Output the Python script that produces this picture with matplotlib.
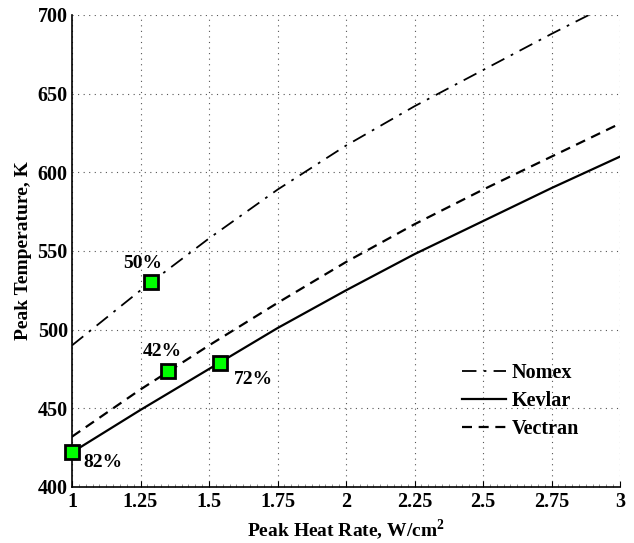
import matplotlib.pyplot as plt
import numpy as np
from matplotlib.ticker import MultipleLocator

plt.rcParams['font.family'] = ['Liberation Serif', 'DejaVu Serif']
plt.rcParams['font.weight'] = 'bold'
plt.rcParams['mathtext.fontset'] = 'custom'
plt.rcParams['mathtext.bf'] = 'Liberation Serif:bold'
plt.rcParams['mathtext.rm'] = 'Liberation Serif:bold'

# Данные
heat_rate = [1.0, 1.25, 1.5, 1.75, 2.0, 2.25, 2.5, 2.75, 3.0]
nomex = [490, 525, 558, 589, 617, 642, 665, 688, 710]
kevlar = [422, 449, 475, 501, 525, 548, 569, 590, 610]
vectran = [432, 462, 490, 517, 543, 567, 589, 610, 631]
tick_labels = ['1', '1.25', '1.5', '1.75', '2', '2.25', '2.5', '2.75', '3']

# Точки с процентами
pt_x = [1.29, 1.35, 1.54, 1.0]
pt_y = [530, 474, 479, 422]
pt_labels = ['50%', '42%', '72%', '82%']
label_offsets = [(-6, 14), (-4, 14), (24, -12), (22, -7)]

fig = plt.figure(figsize=(6.34, 5.43), dpi=100)
ax = fig.add_axes([72 / 634, 56 / 543, 548 / 634, 472 / 543])

ax.plot(heat_rate, nomex, color='black', linestyle='-.', linewidth=1.3,
        dashes=(8, 4, 1.5, 4), label='Nomex')
ax.plot(heat_rate, kevlar, color='black', linestyle='-', linewidth=1.6,
        label='Kevlar')
ax.plot(heat_rate, vectran, color='black', linestyle='--', linewidth=1.6,
        dashes=(4.5, 3), label='Vectran')

ax.plot(pt_x, pt_y, linestyle='none', marker='s', markersize=10,
        markerfacecolor='#00ff00', markeredgecolor='black',
        markeredgewidth=2, clip_on=False, zorder=5)
for x, y, t, (dx, dy) in zip(pt_x, pt_y, pt_labels, label_offsets):
    ax.annotate(t, (x, y), xytext=(dx, dy), textcoords='offset points',
                ha='center', va='center', fontsize=14, fontweight='bold')

ax.set_xlim(1, 3)
ax.set_ylim(400, 700)
ax.set_xticks(np.arange(1, 3.01, 0.25))
ax.set_xticklabels(tick_labels)
ax.xaxis.set_minor_locator(MultipleLocator(0.025))
ax.yaxis.set_major_locator(MultipleLocator(50))

ax.tick_params(axis='both', which='major', direction='in', length=4,
               labelsize=14.5, width=0.8)
ax.tick_params(axis='x', which='minor', direction='in', length=2,
               width=0.6, color='gray')
ax.tick_params(axis='y', which='major', length=0, pad=3)
for lab in ax.get_xticklabels() + ax.get_yticklabels():
    lab.set_fontweight('bold')

ax.spines['top'].set_visible(False)
ax.spines['right'].set_visible(False)
ax.spines['left'].set_linewidth(1.2)
ax.spines['bottom'].set_linewidth(1.2)

ax.grid(True, which='major', linestyle=(0, (1, 4)), color='#555555',
        linewidth=0.8)

ax.set_xlabel('Peak Heat Rate, W/cm$^{\\mathbf{2}}$', fontsize=14,
              fontweight='bold', labelpad=4)
ax.set_ylabel('Peak Temperature, K', fontsize=14, fontweight='bold',
              labelpad=4)

leg = ax.legend(loc='upper left', bbox_to_anchor=(0.712, 0.262), frameon=False,
                fontsize=14.5, handlelength=2.2, handletextpad=0.25,
                labelspacing=0.4, borderpad=0, borderaxespad=0)
for t in leg.get_texts():
    t.set_fontweight('bold')

fig.savefig('out.png', dpi=100)
